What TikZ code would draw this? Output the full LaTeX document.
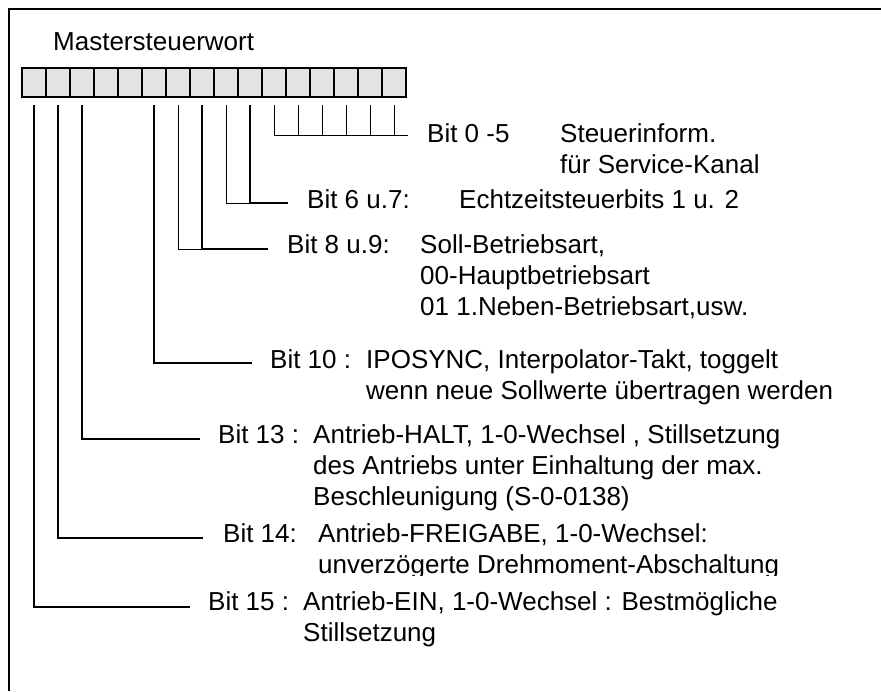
\documentclass[tikz,border=0pt]{standalone}
\usepackage{fontspec}
\setmainfont{Liberation Sans}
\usetikzlibrary{positioning}
\newcommand{\lstack}[1]{\vtop{\halign{##\hfil\cr#1\crcr}}}

\begin{document}
\begin{tikzpicture}[x=1pt,y=-1pt,font=\fontsize{26}{31}\selectfont]
  \tikzset{bitcell/.style={draw,line width=1.5pt,fill=gray!22,minimum width=24pt,minimum height=29pt,inner sep=0,outer sep=0}}
  \tikzset{txt/.style={anchor=base west,inner sep=0}}
  \tikzset{lead/.style={line width=1.6pt}}
  \tikzset{thinlead/.style={line width=0.9pt}}
  \useasboundingbox (0,0) rectangle (881,691);
  \draw[line width=2pt] (9,691) -- (9,9) -- (881,9);
  \node[txt] (title) at (53,50) {Mastersteuerwort};
  \foreach \b in {0,...,15}
    \node[bitcell] (b\b) at ({34+24*(15-\b)},82.5) {};
  \node[txt] (l05) at (427,142) {Bit 0 -5};
  \node[txt] (d05) at (560,142) {\lstack{Steuerinform.\cr für Service-Kanal}};
  \node[txt] (l67) at (307,208) {Bit 6 u.7:};
  \node[txt] (d67) at (459,208) {Echtzeitsteuerbits 1 u. 2};
  \node[txt] (l89) at (287,253) {Bit 8 u.9:};
  \node[txt] (d89) at (420,253) {\lstack{Soll-Betriebsart,\cr 00-Hauptbetriebsart\cr 01 1.Neben-Betriebsart,usw.}};
  \node[txt] (l10) at (270,368) {Bit 10 :};
  \node[txt] (d10) at (366,368) {\lstack{IPOSYNC, Interpolator-Takt, toggelt\cr wenn neue Sollwerte übertragen werden}};
  \node[txt] (l13) at (218,443) {Bit 13 :};
  \node[txt] (d13) at (313,443) {\lstack{Antrieb-HALT, 1-0-Wechsel , Stillsetzung\cr des Antriebs unter Einhaltung der max.\cr Beschleunigung (S-0-0138)}};
  \node[txt] (l14) at (223,542) {Bit 14:};
  \begin{scope}
    \clip (0,0) rectangle (881,575);
    \node[txt] (d14) at (318,542) {\lstack{Antrieb-FREIGABE, 1-0-Wechsel:\cr unverzögerte Drehmoment-Abschaltung}};
  \end{scope}
  \node[txt] (l15) at (208,610) {Bit 15 :};
  \node[txt] (d15) at (303,610) {\lstack{Antrieb-EIN, 1-0-Wechsel : Bestmögliche\cr Stillsetzung}};
  \coordinate (e05) at (408,135);
  \coordinate (e67) at (288,203);
  \coordinate (e89) at (268,249);
  \coordinate (e10) at (252,363);
  \coordinate (e13) at (200,439);
  \coordinate (e14) at (203,538);
  \coordinate (e15) at (190,607);
  \foreach \b in {0,...,5}
    \draw[thinlead] ([yshift=-8pt]b\b.south) |- (e05);
  \draw[thinlead] ([yshift=-8pt]b7.south) |- (e67);
  \draw[lead] ([yshift=-8pt]b6.south) |- (e67);
  \draw[thinlead] ([yshift=-8pt]b9.south) |- (e89);
  \draw[lead] ([yshift=-8pt]b8.south) |- (e89);
  \draw[lead] ([yshift=-8pt]b10.south) |- (e10);
  \draw[lead] ([yshift=-8pt]b13.south) |- (e13);
  \draw[lead] ([yshift=-8pt]b14.south) |- (e14);
  \draw[lead] ([yshift=-8pt]b15.south) |- (e15);
\end{tikzpicture}
\end{document}
